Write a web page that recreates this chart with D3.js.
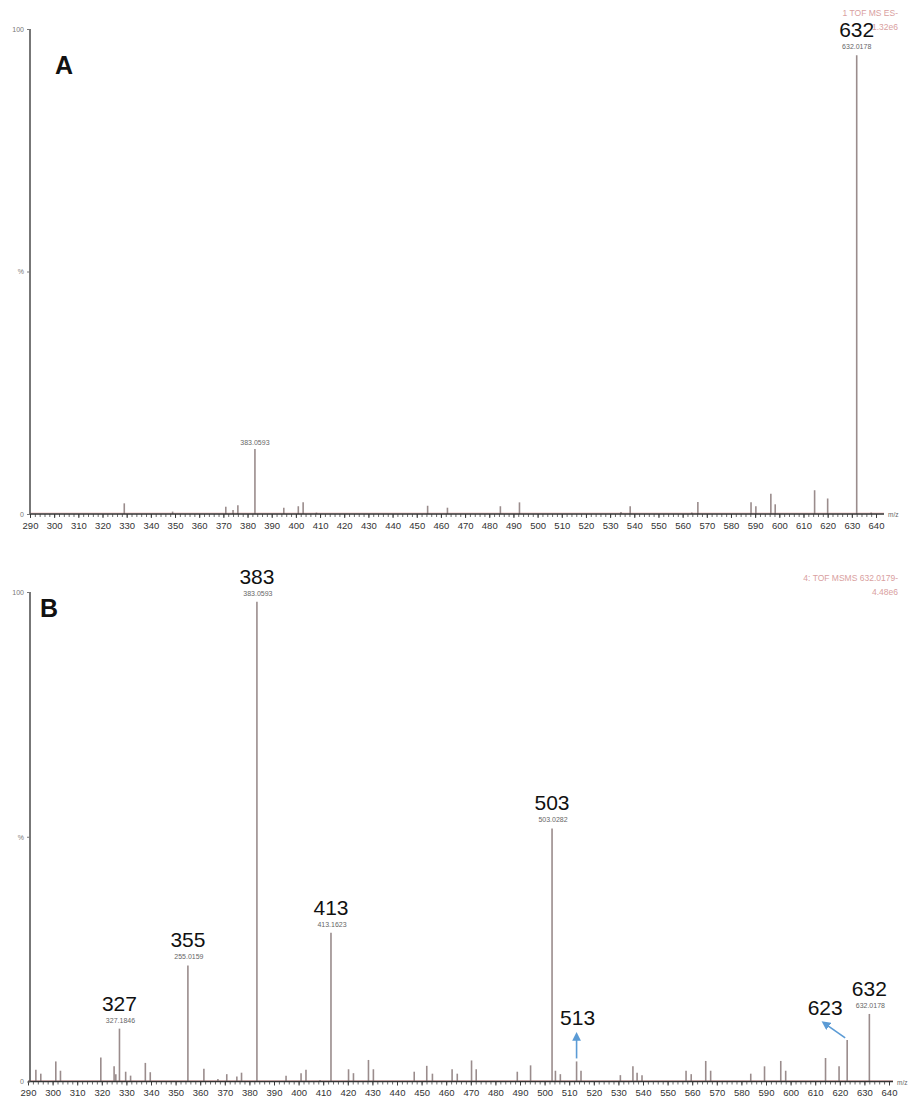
<!DOCTYPE html>
<html>
<head>
<meta charset="utf-8">
<script src="https://cdn.jsdelivr.net/npm/d3@7"></script>
<style>
  html, body { margin: 0; padding: 0; background: #fff; }
  svg { display: block; font-family: "Liberation Sans", Arial, sans-serif; }
</style>
</head>
<body>
<svg id="chart" width="912" height="1099"></svg>
<script>
// ---- Spectrum A: full scan (TOF MS ES-) ----
const peaksA_mz  = [329, 349, 371, 374, 376, 383.0593, 395, 401, 403, 408.5, 454.5, 462.7,
                    484.6, 492.5, 534.5, 538.3, 563.8, 566.3, 588.3, 590.3, 596.5, 598.3,
                    614.6, 620, 632.0178, 638];
const peaksA_int = [2.2, 0.5, 1.5, 0.8, 1.8, 13.4, 1.3, 1.6, 2.4, 0.3, 1.7, 1.3,
                    1.6, 2.4, 0.4, 1.6, 0.3, 2.5, 2.4, 1.6, 4.2, 2.0,
                    4.9, 3.2, 94.6, 0.3];

// ---- Spectrum B: MS/MS of 632.0179 ----
const peaksB_mz  = [293.2, 295.2, 301.3, 303.2, 319.6, 325, 325.7, 327.1846, 329.7, 331.7,
                    337.7, 339.7, 355, 361.5, 367.2, 370.8, 374.9, 376.8, 383.0593, 394.9,
                    401, 403, 408.7, 413.1623, 420.3, 422.3, 428.4, 430.4, 447, 452.1,
                    454.4, 462.4, 464.5, 470.3, 472.2, 488.9, 494.3, 503.0282, 504.4, 506.4,
                    513, 514.8, 530.8, 535.9, 537.6, 539.6, 557.5, 559.6, 565.5, 567.5,
                    583.8, 589.4, 596, 598, 614.2, 619.7, 623, 632.0178];
const peaksB_int = [2.4, 1.6, 4.1, 2.2, 4.9, 3.1, 1.5, 10.8, 2.0, 1.2,
                    3.8, 1.9, 23.7, 2.6, 0.5, 1.5, 1.0, 1.8, 98.0, 1.2,
                    1.7, 2.4, 0.3, 30.4, 2.5, 1.7, 4.4, 2.5, 2.0, 3.2,
                    1.6, 2.5, 1.6, 4.3, 2.5, 2.0, 3.3, 51.7, 2.2, 1.5,
                    4.1, 2.2, 1.3, 3.1, 1.8, 1.3, 2.2, 1.5, 4.2, 2.2,
                    1.6, 3.1, 4.2, 2.2, 4.8, 3.1, 8.5, 13.8];

// Labelled peaks (nominal mass above, accurate mass below)
const labelA_mz   = [632.0178];
const labelA_big  = ["632"];
const labelA_acc  = ["632.0178"];
const accOnlyA_mz = [383.0593];
const accOnlyA    = ["383.0593"];

const labelB_mz  = [327.1846, 355, 383.0593, 413.1623, 503.0282, 632.0178];
const labelB_big = ["327", "355", "383", "413", "503", "632"];
const labelB_acc = ["327.1846", "255.0159", "383.0593", "413.1623", "503.0282", "632.0178"];

// Arrow-annotated fragments in B
const arrowB_mz   = [513, 623];
const arrowB_text = ["513", "623"];

// Axis ticks
const xTicks = d3.range(290, 641, 10);
const xMinor = d3.range(290, 641, 2);
const yTicks = [0, 50, 100];
const yTickText = {0: "0", 50: "%", 100: "100"};

const svg = d3.select("#chart");
const peakColor = "#9a8c8c";
const headerColor = "#d9a0a0";

function drawPanel(o) {
  const g = svg.append("g");
  const x = d3.scaleLinear().domain([290, 640]).range([o.x0, o.x1]);
  const y = d3.scaleLinear().domain([0, 100]).range([o.yBase, o.yTop]);

  // faint pink noise trace along the baseline
  g.append("line")
    .attr("x1", o.x0).attr("x2", o.axisEnd)
    .attr("y1", o.yBase - 1).attr("y2", o.yBase - 1)
    .attr("stroke", "#f0c8c8").attr("stroke-width", 1);

  // peaks
  g.selectAll("line.peak")
    .data(o.mz.map((m, i) => ({ m, v: o.int[i] })))
    .join("line")
    .attr("class", "peak")
    .attr("x1", d => x(d.m)).attr("x2", d => x(d.m))
    .attr("y1", y(0)).attr("y2", d => y(d.v))
    .attr("stroke", peakColor).attr("stroke-width", 1.6);

  // x axis: minor ticks
  const minor = g.append("g").attr("transform", `translate(0,${o.yBase})`)
    .call(d3.axisBottom(x).tickValues(xMinor).tickSize(3).tickFormat(""));
  minor.select(".domain").remove();
  minor.selectAll("line").attr("stroke", "#444").attr("stroke-width", 0.8);

  // x axis: major ticks and labels
  const ax = g.append("g").attr("transform", `translate(0,${o.yBase})`)
    .call(d3.axisBottom(x).tickValues(xTicks).tickSize(4).tickSizeOuter(0).tickPadding(4));
  ax.select(".domain").remove();
  ax.selectAll("line").attr("stroke", "#333").attr("stroke-width", 0.9);
  ax.selectAll("text").attr("font-size", 9.5).attr("fill", "#333")
    .attr("font-family", "'Liberation Sans Narrow', 'Liberation Sans', Arial, sans-serif");

  // baseline
  g.append("line")
    .attr("x1", o.x0).attr("x2", o.axisEnd)
    .attr("y1", o.yBase).attr("y2", o.yBase)
    .attr("stroke", "#333").attr("stroke-width", 1.6);
  g.append("text")
    .attr("x", o.axisEnd + 4).attr("y", o.yBase + 3)
    .attr("font-size", 6.5).attr("fill", "#666").text("m/z");

  // y axis
  const ay = g.append("g").attr("transform", `translate(${o.yAxisX},0)`)
    .call(d3.axisLeft(y).tickValues(yTicks).tickSize(3).tickSizeOuter(0)
      .tickFormat(d => yTickText[d]));
  ay.select(".domain").attr("stroke", "#555").attr("stroke-width", 1.6)
    .attr("d", `M0,${o.yTop}V${o.yBase}`);
  ay.selectAll("line").attr("stroke", "#777");
  ay.selectAll("text").attr("font-size", 7).attr("fill", "#777");

  // panel letter
  g.append("text")
    .attr("x", o.letterX).attr("y", o.letterY)
    .attr("font-size", 25).attr("font-weight", "bold")
    .attr("font-family", "'Liberation Sans', Arial, sans-serif")
    .attr("fill", "#111").text(o.letter);

  // instrument header
  g.selectAll("text.hdr")
    .data(o.header)
    .join("text")
    .attr("class", "hdr")
    .attr("x", 898).attr("y", (d, i) => o.headerY + i * 14)
    .attr("text-anchor", "end").attr("font-size", 8.5)
    .attr("fill", headerColor).text(d => d);

  return { g, x, y };
}

// ---------------- Panel A ----------------
const A = drawPanel({
  letter: "A", letterX: 55, letterY: 74,
  x0: 30, x1: 876, axisEnd: 884, yAxisX: 30,
  yBase: 514, yTop: 29,
  mz: peaksA_mz, int: peaksA_int,
  header: ["1 TOF MS ES-", "1.32e6"], headerY: 16
});

labelA_mz.forEach((m, i) => {
  const v = peaksA_int[peaksA_mz.indexOf(m)];
  A.g.append("text").attr("x", A.x(m)).attr("y", A.y(v) - 6)
    .attr("text-anchor", "middle").attr("font-size", 7).attr("fill", "#666")
    .text(labelA_acc[i]);
  A.g.append("text").attr("x", A.x(m)).attr("y", A.y(v) - 18)
    .attr("text-anchor", "middle").attr("font-size", 21).attr("fill", "#111")
    .attr("font-family", "'Liberation Sans', Arial, sans-serif")
    .text(labelA_big[i]);
});
accOnlyA_mz.forEach((m, i) => {
  const v = peaksA_int[peaksA_mz.indexOf(m)];
  A.g.append("text").attr("x", A.x(m)).attr("y", A.y(v) - 4)
    .attr("text-anchor", "middle").attr("font-size", 7).attr("fill", "#666")
    .text(accOnlyA[i]);
});

// ---------------- Panel B ----------------
const B = drawPanel({
  letter: "B", letterX: 40, letterY: 617,
  x0: 28, x1: 889, axisEnd: 893, yAxisX: 30,
  yBase: 1081.5, yTop: 592,
  mz: peaksB_mz, int: peaksB_int,
  header: ["4: TOF MSMS 632.0179-", "4.48e6"], headerY: 581
});

labelB_mz.forEach((m, i) => {
  const v = peaksB_int[peaksB_mz.indexOf(m)];
  B.g.append("text").attr("x", B.x(m) + 1).attr("y", B.y(v) - 6)
    .attr("text-anchor", "middle").attr("font-size", 7).attr("fill", "#666")
    .text(labelB_acc[i]);
  B.g.append("text").attr("x", B.x(m)).attr("y", B.y(v) - 18)
    .attr("text-anchor", "middle").attr("font-size", 21).attr("fill", "#111")
    .attr("font-family", "'Liberation Sans', Arial, sans-serif")
    .text(labelB_big[i]);
});

// arrows to minor fragments
const defs = svg.append("defs");
defs.append("marker").attr("id", "arrowhead")
  .attr("viewBox", "0 0 10 10").attr("refX", 5).attr("refY", 5)
  .attr("markerWidth", 5.5).attr("markerHeight", 5.5).attr("orient", "auto-start-reverse")
  .append("path").attr("d", "M0,0L10,5L0,10z").attr("fill", "#5b9bd5");

// 513: vertical arrow pointing up, label above
{
  const m = arrowB_mz[0];
  const px = B.x(m);
  const v = peaksB_int[peaksB_mz.indexOf(m)];
  const tail = B.y(v) - 3;
  B.g.append("line").attr("x1", px).attr("x2", px)
    .attr("y1", tail).attr("y2", tail - 22)
    .attr("stroke", "#5b9bd5").attr("stroke-width", 1.6)
    .attr("marker-end", "url(#arrowhead)");
  B.g.append("text").attr("x", px + 1).attr("y", tail - 33)
    .attr("text-anchor", "middle").attr("font-size", 21).attr("fill", "#111")
    .attr("font-family", "'Liberation Sans', Arial, sans-serif")
    .text(arrowB_text[0]);
}
// 623: diagonal arrow from the peak top up and to the left
{
  const m = arrowB_mz[1];
  const px = B.x(m);
  const v = peaksB_int[peaksB_mz.indexOf(m)];
  const top = B.y(v);
  B.g.append("line").attr("x1", px - 2).attr("x2", px - 22)
    .attr("y1", top - 2).attr("y2", top - 16)
    .attr("stroke", "#5b9bd5").attr("stroke-width", 1.6)
    .attr("marker-end", "url(#arrowhead)");
  B.g.append("text").attr("x", px - 22).attr("y", top - 25)
    .attr("text-anchor", "middle").attr("font-size", 21).attr("fill", "#111")
    .attr("font-family", "'Liberation Sans', Arial, sans-serif")
    .text(arrowB_text[1]);
}
</script>
</body>
</html>
